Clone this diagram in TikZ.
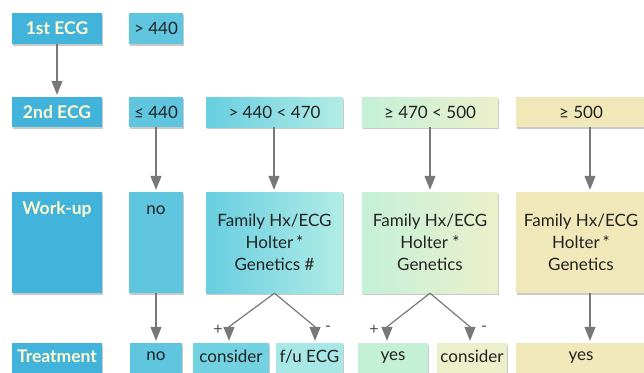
\documentclass[tikz,border=0pt]{standalone}
\usepackage{fontspec}
\setmainfont{Lato}
\usetikzlibrary{shadows,arrows.meta}

\definecolor{dark}{RGB}{66,180,220}
\definecolor{mid}{RGB}{96,198,224}
\definecolor{aquaL}{RGB}{104,206,224}
\definecolor{aquaR}{RGB}{178,236,230}
\definecolor{mintL}{RGB}{196,240,216}
\definecolor{mintR}{RGB}{236,240,202}
\definecolor{sand}{RGB}{241,232,186}
\definecolor{headtext}{RGB}{255,248,206}
\definecolor{ink}{RGB}{34,34,34}
\definecolor{arrowgray}{RGB}{120,120,120}

\newcommand{\headfont}{\fontsize{17.5}{20}\selectfont\bfseries}
\newcommand{\valfont}{\fontsize{17}{22}\selectfont}
\newcommand{\signfont}{\fontsize{16}{18}\selectfont}

\begin{document}
\begin{tikzpicture}[x=1pt,y=-1pt,
  box/.style={rectangle, draw=none, inner sep=0pt,
    drop shadow={shadow xshift=1.3pt, shadow yshift=-1.5pt, opacity=0.3, fill=black!70}},
  head/.style={box, fill=dark, text=headtext, font=\headfont},
  val/.style={box, text=ink, font=\valfont, align=center},
  arr/.style={draw=arrowgray, line width=1.2pt, shorten >=2pt,
    -{Triangle[width=11pt,length=14pt]}},
  sign/.style={text=ink!80, font=\signfont, inner sep=0pt}
]
\useasboundingbox (0,0) rectangle (644,372);
\clip (0,0) rectangle (644,372);

% row 1
\node[head, minimum width=90pt, minimum height=31pt] (e1) at (57,28.5) {1st ECG};
\node[val, fill=mid, minimum width=54pt, minimum height=31pt] (g1) at (156,28.5) {> 440};

% row 2
\node[head, minimum width=90pt, minimum height=30pt] (e2) at (57,112) {2nd ECG};
\node[val, fill=mid, minimum width=54pt, minimum height=30pt] (r0) at (156,112) {≤ 440};
\node[val, left color=aquaL, right color=aquaR, minimum width=137pt, minimum height=30pt] (r1) at (274.5,112) {> 440 < 470};
\node[val, left color=mintL, right color=mintR, minimum width=136pt, minimum height=30pt] (r2) at (430,112) {≥ 470 < 500};
\node[val, fill=sand, minimum width=130pt, minimum height=30pt] (r3) at (581,112) {≥ 500};

% row 3
\node[head, minimum width=90pt, minimum height=101pt,
  label={[anchor=center, yshift=-18pt, text=headtext, font=\headfont]north:Work-up}] (wu) at (57,242.5) {};
\node[val, fill=mid, minimum width=54pt, minimum height=101pt,
  label={[anchor=center, yshift=-18pt, text=ink, font=\valfont]north:no}] (n1) at (156,242.5) {};
\node[val, left color=aquaL, right color=aquaR, minimum width=137pt, minimum height=101pt] (f1) at (274.5,242.5)
  {Family Hx/ECG\\Holter\,*\\Genetics \#};
\node[val, left color=mintL, right color=mintR, minimum width=136pt, minimum height=101pt] (f2) at (430,242.5)
  {Family Hx/ECG\\Holter *\\Genetics};
\node[val, fill=sand, minimum width=130pt, minimum height=101pt] (f3) at (581,242.5)
  {Family Hx/ECG\\Holter\,*\\Genetics};

% row 4
\node[head, minimum width=90pt, minimum height=42pt,
  label={[anchor=center, yshift=-13pt, text=headtext, font=\headfont]north:Treatment}] (tr) at (57,364) {};
\node[val, fill=mid, minimum width=52pt, minimum height=42pt,
  label={[anchor=center, yshift=-13.5pt, text=ink, font=\valfont]north:no}] (n2) at (156,364) {};
\node[val, fill=aquaL!85!aquaR, minimum width=76pt, minimum height=42pt,
  label={[anchor=center, yshift=-13.5pt, text=ink, font=\valfont]north:consider}] (c1) at (231,364) {};
\node[val, fill=aquaR!85!aquaL, minimum width=67pt, minimum height=42pt,
  label={[anchor=center, yshift=-13.5pt, text=ink, font=\valfont]north:f/u ECG}] (fu) at (309.5,364) {};
\node[val, fill=mintL, minimum width=70pt, minimum height=42pt,
  label={[anchor=center, yshift=-15pt, text=ink, font=\valfont]north:yes}] (y1) at (393,364) {};
\node[val, fill=mintR, minimum width=70pt, minimum height=42pt,
  label={[anchor=center, yshift=-13.5pt, text=ink, font=\valfont]north:consider}] (c2) at (472,364) {};
\node[val, fill=sand, minimum width=130pt, minimum height=42pt,
  label={[anchor=center, yshift=-15pt, text=ink, font=\valfont]north:yes}] (y2) at (581,364) {};

% connectors
\draw[arr] (e1.south) -- (e2.north);
\draw[arr] (r0.south) -- (n1.north);
\draw[arr] ([xshift=-0.5pt]r1.south) -- ([xshift=-0.5pt]f1.north);
\draw[arr] (r2.south) -- (f2.north);
\draw[arr] ([xshift=9pt]r3.south) -- ([xshift=9pt]f3.north);
\draw[arr] (n1.south) -- (n2.north);
\draw[arr] ([xshift=9pt]f3.south) -- ([xshift=9pt]y2.north);

\draw[arr] (f1.south) -- ([xshift=-2pt,yshift=16pt]c1.north) -- ([xshift=-2pt]c1.north);
\draw[arr] (f1.south) -- ([xshift=5.5pt,yshift=16pt]fu.north) -- ([xshift=5.5pt]fu.north);
\draw[arr] (f2.south) -- ([xshift=-6pt,yshift=16pt]y1.north) -- ([xshift=-6pt]y1.north);
\draw[arr] (f2.south) -- ([xshift=-2pt,yshift=16pt]c2.north) -- ([xshift=-2pt]c2.north);

% branch signs
\node[sign] (p1) at (218,330) {+};
\node[sign] (m1) at (328,329) {-};
\node[sign] (p2) at (374,330) {+};
\node[sign] (m2) at (484,329) {-};
\end{tikzpicture}
\end{document}
